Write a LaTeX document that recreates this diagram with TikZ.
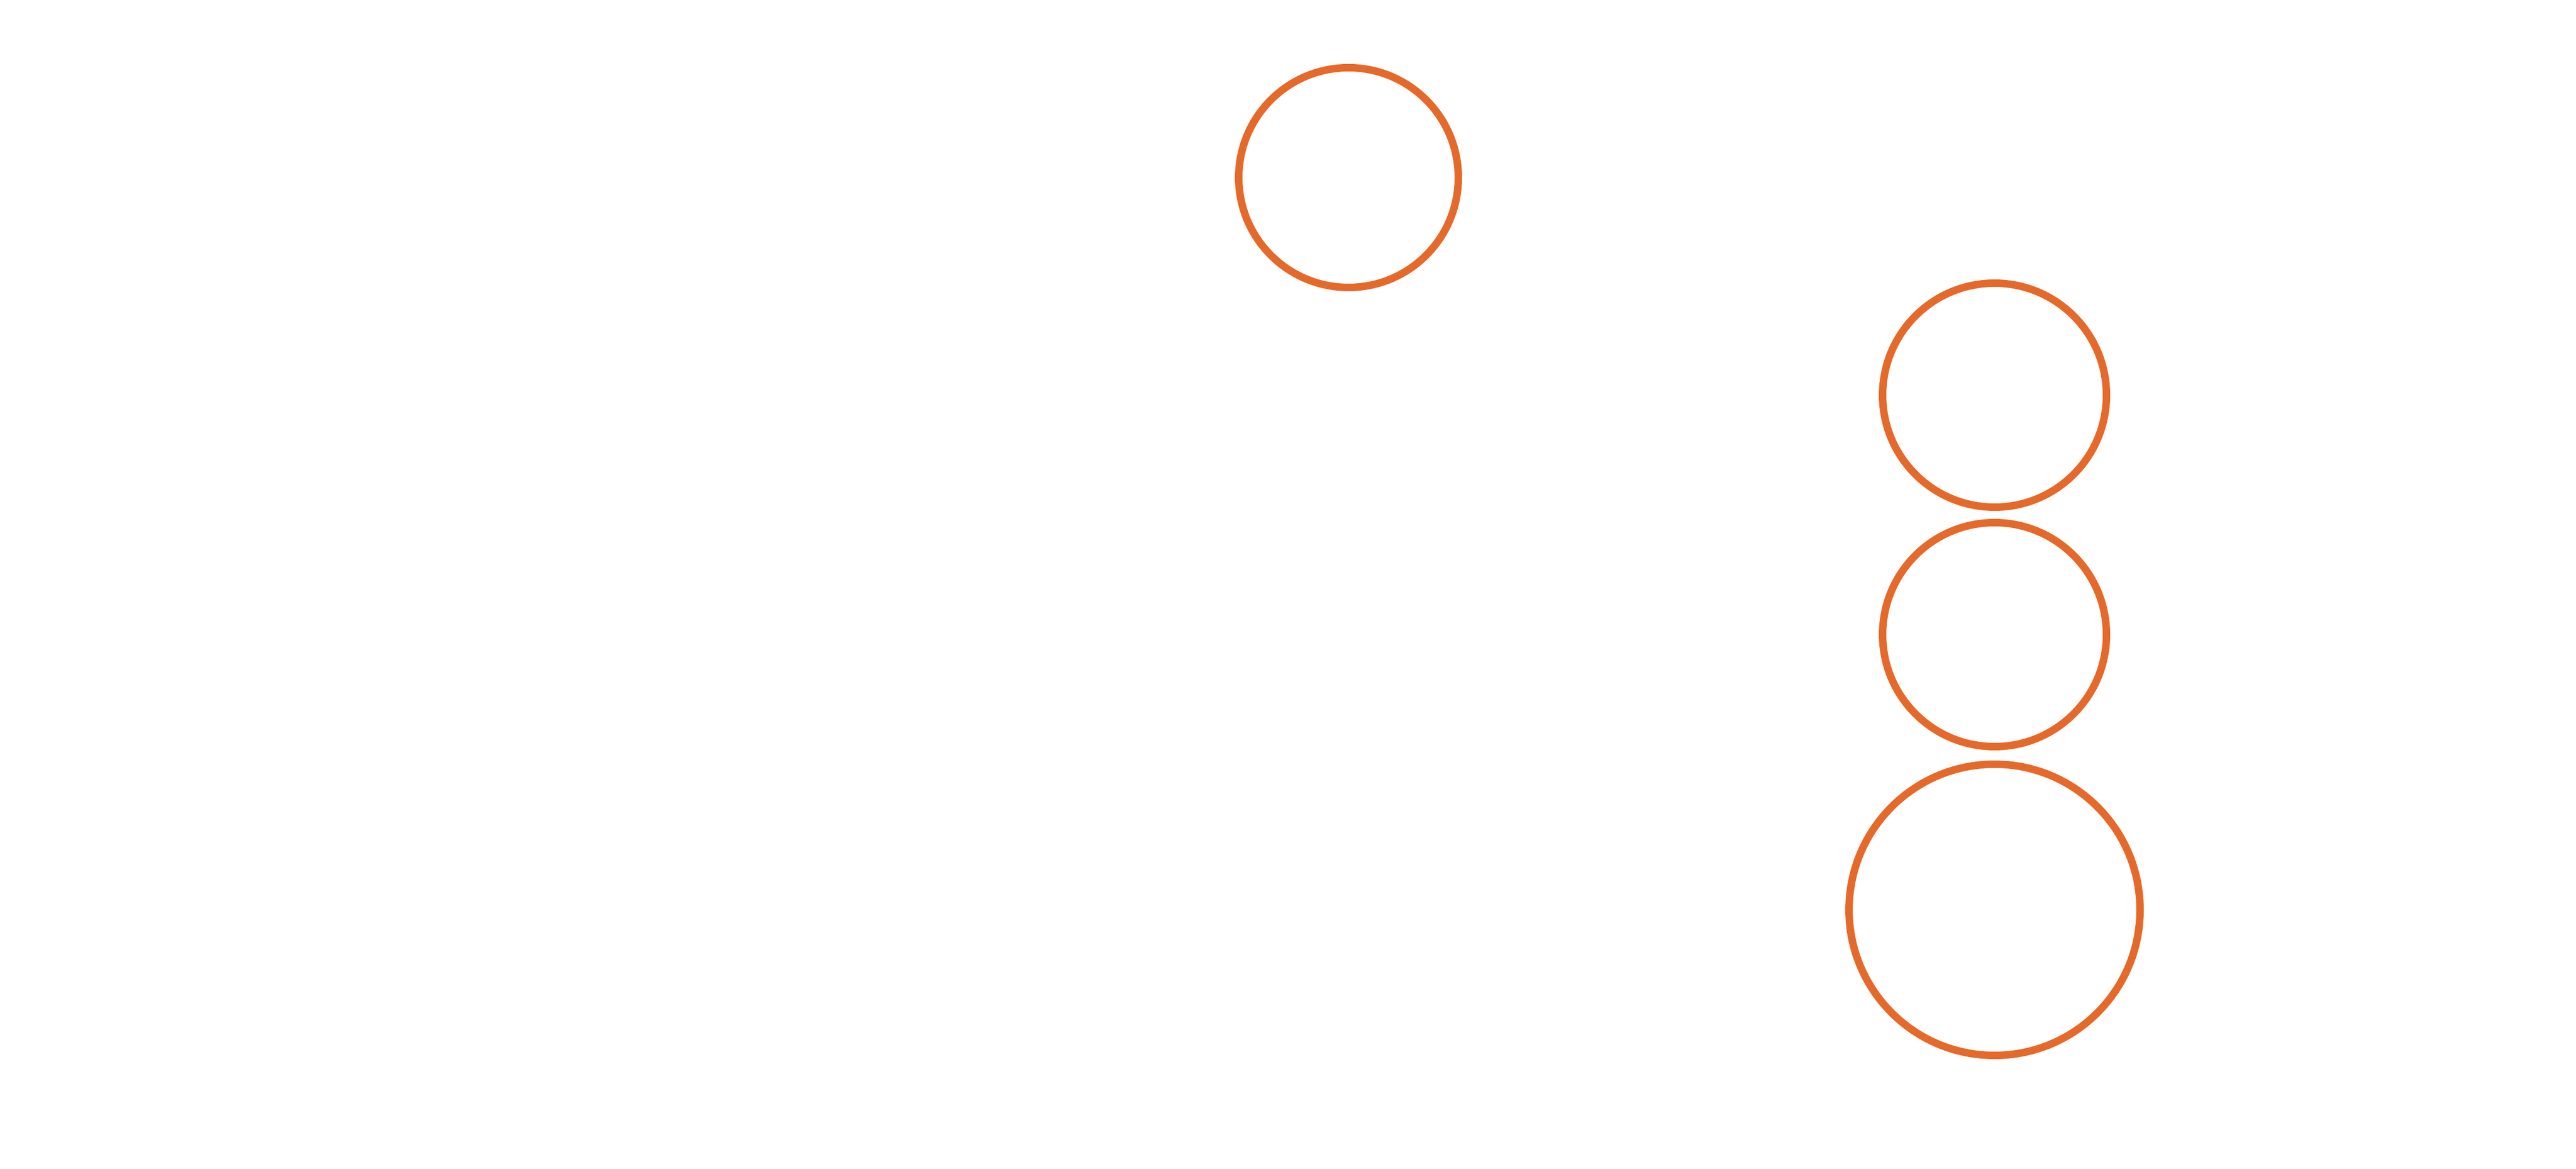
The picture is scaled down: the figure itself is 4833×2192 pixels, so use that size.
\documentclass[tikz,border=0pt]{standalone}
\begin{document}
\begin{tikzpicture}[x=0.1pt,y=-0.1pt]
\definecolor{circorange}{HTML}{E5692A}
\tikzset{ring/.style={circle,draw=circorange,line width=1.4pt,inner sep=0pt}}
\useasboundingbox (0,0) rectangle (4833,2192);
\node[ring,minimum size=41.2pt] (c1) at (2530,333) {};
\node[ring,minimum size=42pt] (c2) at (3742,741) {};
\node[ring,minimum size=42pt] (c3) at (3742,1190) {};
\node[ring,minimum size=54.6pt] (c4) at (3742,1706) {};
\end{tikzpicture}
\end{document}
